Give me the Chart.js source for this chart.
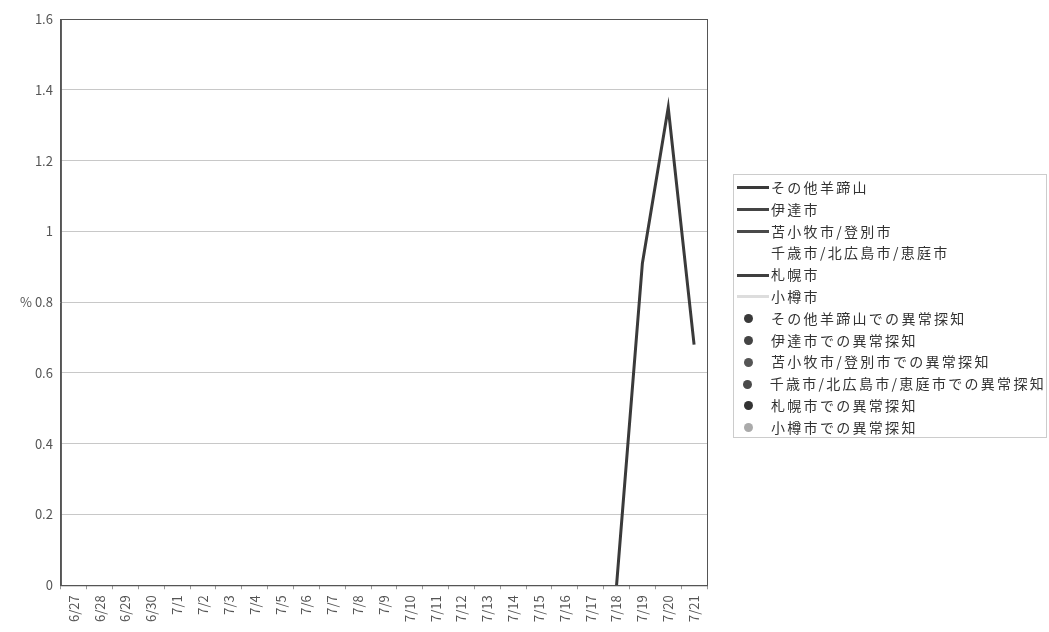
<!DOCTYPE html>
<html lang="ja">
<head>
<meta charset="UTF-8">
<title>異常探知</title>
<script src="https://cdn.jsdelivr.net/npm/chart.js"></script>
<style>
    body { margin: 0; background: #fff; font-family: "Noto Sans CJK JP", sans-serif; }
    .wrap { position: relative; width: 1049px; height: 632px; }
    #legend {
        position: absolute; left: 733px; top: 174px; width: 314px; height: 264px;
        border: 1px solid #ccc; box-sizing: border-box; padding: 2px 0 0 2px;
        font-size: 14px; letter-spacing: 2.3px; color: #333;
    }
    #legend div { height: 21.8px; line-height: 21.8px; display: flex; align-items: center; white-space: nowrap; }
    #legend .mk { width: 33px; display: inline-flex; justify-content: center; align-items: center; margin-right: 2px; }
    #legend .ln { width: 32px; height: 3px; }
    #legend .dot { width: 9px; height: 9px; border-radius: 50%; margin-left: -8px; }
</style>
</head>
<body>
<div class="wrap">
    <canvas id="chart" width="1049" height="632"></canvas>
    <div id="legend"></div>
</div>
<script>
// 日付
const dates = ['6/27', '6/28', '6/29', '6/30', '7/1', '7/2', '7/3', '7/4', '7/5', '7/6', '7/7', '7/8', '7/9',
    '7/10', '7/11', '7/12', '7/13', '7/14', '7/15', '7/16', '7/17', '7/18', '7/19', '7/20', '7/21'];

// 地域ごとの系列（%）
const areaNames = ['その他羊蹄山', '伊達市', '苫小牧市/登別市', '千歳市/北広島市/恵庭市', '札幌市', '小樽市'];
const areaColors = ['#3a3a3a', '#444444', '#4a4a4a', '#ffffff', '#3f3f3f', '#dddddd'];
const yoteiValues = [null, null, null, null, null, null, null, null, null, null, null, null, null,
    null, null, null, null, null, null, null, null, 0, 0.91, 1.35, 0.68];

// 異常探知の系列
const alertNames = areaNames.map(n => n + 'での異常探知');
const alertColors = ['#3a3a3a', '#444444', '#555555', '#4a4a4a', '#333333', '#aaaaaa'];

const yTicks = [0, 0.2, 0.4, 0.6, 0.8, 1, 1.2, 1.4, 1.6];

const datasets = [];
areaNames.forEach((name, i) => {
    datasets.push({
        label: name,
        data: i === 0 ? yoteiValues : [],
        borderColor: areaColors[i],
        borderWidth: 3,
        pointRadius: 0,
        tension: 0,
        spanGaps: false
    });
});
alertNames.forEach((name, i) => {
    datasets.push({
        label: name,
        data: [],
        showLine: false,
        pointRadius: 4,
        backgroundColor: alertColors[i],
        borderColor: alertColors[i]
    });
});

// 枠線を描く
const frame = {
    id: 'frame',
    afterDatasetsDraw(chart) {
        const { ctx, chartArea: a } = chart;
        ctx.save();
        ctx.strokeStyle = '#555';
        ctx.lineWidth = 1;
        ctx.strokeRect(a.left + 0.5, a.top + 0.5, a.right - a.left, a.bottom - a.top);
        ctx.restore();
    }
};

new Chart(document.getElementById('chart'), {
    type: 'line',
    data: { labels: dates, datasets: datasets },
    plugins: [frame],
    options: {
        responsive: false,
        animation: false,
        layout: { padding: { left: 12, right: 342, top: 19, bottom: 4 } },
        plugins: { legend: { display: false }, tooltip: { enabled: false } },
        scales: {
            x: {
                offset: true,
                grid: { display: true, offset: true, drawOnChartArea: false, tickLength: 4, color: '#999' },
                border: { color: '#555' },
                ticks: {
                    minRotation: 90, maxRotation: 90, autoSkip: false,
                    color: '#555', font: { size: 13, family: 'Noto Sans CJK JP' }, padding: 6
                }
            },
            y: {
                min: 0, max: 1.6,
                afterBuildTicks: axis => { axis.ticks = yTicks.map(v => ({ value: v })); },
                grid: { color: '#c8c8c8', drawTicks: false },
                border: { color: '#555' },
                ticks: {
                    color: '#555', padding: 8, font: { size: 13, family: 'Noto Sans CJK JP' },
                    callback: v => (v === 0.8 ? '% 0.8' : String(v))
                }
            }
        }
    }
});

// 凡例
const legend = document.getElementById('legend');
areaNames.forEach((name, i) => {
    legend.insertAdjacentHTML('beforeend',
        `<div><span class="mk"><span class="ln" style="background:${areaColors[i]}"></span></span>${name}</div>`);
});
alertNames.forEach((name, i) => {
    legend.insertAdjacentHTML('beforeend',
        `<div><span class="mk"><span class="dot" style="background:${alertColors[i]}"></span></span>${name}</div>`);
});
</script>
</body>
</html>
